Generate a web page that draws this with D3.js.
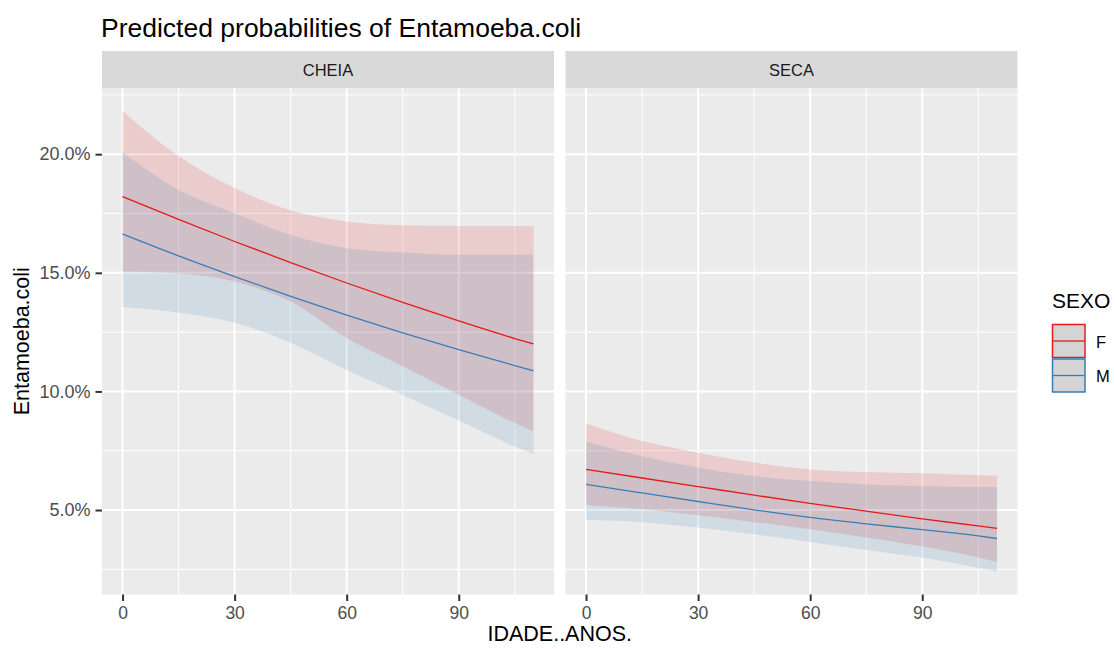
<!DOCTYPE html>
<html>
<head>
<meta charset="utf-8">
<script src="https://cdn.jsdelivr.net/npm/d3@7"></script>
<style>
  body { margin: 0; background: white; }
  text { font-family: "Liberation Sans", Arial, sans-serif; }
</style>
</head>
<body>
<div id="chart"></div>
<script>
const ages = [0, 15, 30, 45, 60, 75, 90, 105, 110];
const panels = ["CHEIA", "SECA"];
const groups = ["F", "M"];
const xTicks = [0, 30, 60, 90];
const xMinor = [15, 45, 75, 105];
const yTicks = [0.05, 0.10, 0.15, 0.20];
const yMinor = [0.025, 0.075, 0.125, 0.175, 0.225];

// CHEIA
const cheiaF = [0.1821, 0.1725, 0.1632, 0.1543, 0.1457, 0.1375, 0.1297, 0.1223, 0.1200];
const cheiaFLow = [0.1506, 0.1497, 0.1463, 0.1379, 0.1225, 0.1106, 0.0986, 0.0867, 0.0832];
const cheiaFHigh = [0.2182, 0.1992, 0.1857, 0.1764, 0.1716, 0.1700, 0.1697, 0.1697, 0.1697];
const cheiaM = [0.1663, 0.1571, 0.1484, 0.1401, 0.1322, 0.1247, 0.1176, 0.1109, 0.1087];
const cheiaMLow = [0.1356, 0.1333, 0.1290, 0.1205, 0.1090, 0.0985, 0.0877, 0.0768, 0.0736];
const cheiaMHigh = [0.2008, 0.1850, 0.1751, 0.1660, 0.1604, 0.1586, 0.1576, 0.1576, 0.1576];
// SECA
const secaF = [0.0671, 0.0635, 0.0599, 0.0563, 0.0528, 0.0495, 0.0463, 0.0433, 0.0423];
const secaFLow = [0.0520, 0.0503, 0.0478, 0.0449, 0.0419, 0.0384, 0.0346, 0.0300, 0.0281];
const secaFHigh = [0.0865, 0.0791, 0.0742, 0.0700, 0.0671, 0.0660, 0.0655, 0.0647, 0.0646];
const secaM = [0.0608, 0.0572, 0.0536, 0.0501, 0.0469, 0.0442, 0.0417, 0.0391, 0.0380];
const secaMLow = [0.0458, 0.0449, 0.0426, 0.0398, 0.0365, 0.0332, 0.0300, 0.0257, 0.0241];
const secaMHigh = [0.0788, 0.0727, 0.0679, 0.0643, 0.0622, 0.0608, 0.0601, 0.0597, 0.0597];

const colors = { F: "#E41A1C", M: "#377EB8" };

const series = [
  { panel: "CHEIA", group: "F", fit: cheiaF, low: cheiaFLow, high: cheiaFHigh },
  { panel: "CHEIA", group: "M", fit: cheiaM, low: cheiaMLow, high: cheiaMHigh },
  { panel: "SECA", group: "F", fit: secaF, low: secaFLow, high: secaFHigh },
  { panel: "SECA", group: "M", fit: secaM, low: secaMLow, high: secaMHigh }
];

const width = 1115, height = 649;
const panelBox = { CHEIA: [102, 554], SECA: [565.5, 1017.5] };
const plotTop = 88, plotBottom = 594.5;
const stripTop = 51;

const svg = d3.select("#chart").append("svg")
  .attr("width", width)
  .attr("height", height);

// ggplot-style 5% expansion
const xExt = d3.extent(ages);
const xPad = (xExt[1] - xExt[0]) * 0.05;
const allY = series.flatMap(s => s.low.concat(s.high));
const yExt = d3.extent(allY);
const yPad = (yExt[1] - yExt[0]) * 0.05;

const y = d3.scaleLinear()
  .domain([yExt[0] - yPad, yExt[1] + yPad])
  .range([plotBottom, plotTop]);

// title
svg.append("text")
  .attr("x", 101)
  .attr("y", 37)
  .attr("font-size", "26.5px")
  .attr("fill", "black")
  .text("Predicted probabilities of Entamoeba.coli");

panels.forEach(p => {
  const [x0, x1] = panelBox[p];
  const x = d3.scaleLinear()
    .domain([xExt[0] - xPad, xExt[1] + xPad])
    .range([x0, x1]);

  const g = svg.append("g");

  // strip
  g.append("rect")
    .attr("x", x0).attr("y", stripTop)
    .attr("width", x1 - x0).attr("height", plotTop - stripTop)
    .attr("fill", "#D9D9D9");
  g.append("text")
    .attr("x", (x0 + x1) / 2)
    .attr("y", (stripTop + plotTop) / 2 + 6)
    .attr("text-anchor", "middle")
    .attr("font-size", "16.5px")
    .attr("fill", "#1A1A1A")
    .text(p);

  // panel background and grid
  g.append("rect")
    .attr("x", x0).attr("y", plotTop)
    .attr("width", x1 - x0).attr("height", plotBottom - plotTop)
    .attr("fill", "#EBEBEB");

  g.selectAll("line.ymin").data(yMinor.filter(v => y(v) > plotTop && y(v) < plotBottom)).enter()
    .append("line")
    .attr("x1", x0).attr("x2", x1)
    .attr("y1", d => y(d)).attr("y2", d => y(d))
    .attr("stroke", "white").attr("stroke-width", 1);
  g.selectAll("line.xmin").data(xMinor).enter()
    .append("line")
    .attr("x1", d => x(d)).attr("x2", d => x(d))
    .attr("y1", plotTop).attr("y2", plotBottom)
    .attr("stroke", "white").attr("stroke-width", 1);
  g.selectAll("line.ymaj").data(yTicks).enter()
    .append("line")
    .attr("x1", x0).attr("x2", x1)
    .attr("y1", d => y(d)).attr("y2", d => y(d))
    .attr("stroke", "white").attr("stroke-width", 2);
  g.selectAll("line.xmaj").data(xTicks).enter()
    .append("line")
    .attr("x1", d => x(d)).attr("x2", d => x(d))
    .attr("y1", plotTop).attr("y2", plotBottom)
    .attr("stroke", "white").attr("stroke-width", 2);

  // ribbons then lines
  const ps = series.filter(s => s.panel === p);
  const area = d3.area()
    .x(d => x(d.age))
    .y0(d => y(d.low))
    .y1(d => y(d.high))
    .curve(d3.curveMonotoneX);
  const line = d3.line()
    .x(d => x(d.age))
    .y(d => y(d.fit))
    .curve(d3.curveMonotoneX);

  ps.forEach(s => {
    const rows = ages.map((a, i) => ({ age: a, fit: s.fit[i], low: s.low[i], high: s.high[i] }));
    g.append("path")
      .datum(rows)
      .attr("d", area)
      .attr("fill", colors[s.group])
      .attr("fill-opacity", 0.15);
  });
  ps.forEach(s => {
    const rows = ages.map((a, i) => ({ age: a, fit: s.fit[i] }));
    g.append("path")
      .datum(rows)
      .attr("d", line)
      .attr("fill", "none")
      .attr("stroke", colors[s.group])
      .attr("stroke-width", 1.3);
  });

  // x axis
  const xAxis = svg.append("g")
    .attr("transform", `translate(0,${plotBottom})`)
    .call(d3.axisBottom(x).tickValues(xTicks).tickSize(6.5).tickPadding(6).tickFormat(d3.format("d")));
  xAxis.select(".domain").remove();
  xAxis.selectAll(".tick line").attr("stroke", "#333333").attr("stroke-width", 2);
  xAxis.selectAll(".tick text")
    .attr("font-size", "17.5px")
    .attr("fill", "#4D4D4D")
    .attr("font-family", "Liberation Sans, Arial, sans-serif");

  if (p === "CHEIA") {
    const yAxis = svg.append("g")
      .attr("transform", `translate(${x0},0)`)
      .call(d3.axisLeft(y).tickValues(yTicks).tickSize(6.5).tickPadding(5).tickFormat(d3.format(".1%")));
    yAxis.select(".domain").remove();
    yAxis.selectAll(".tick line").attr("stroke", "#333333").attr("stroke-width", 2);
    yAxis.selectAll(".tick text")
      .attr("font-size", "18px")
      .attr("fill", "#4D4D4D")
      .attr("font-family", "Liberation Sans, Arial, sans-serif");
  }
});

// axis titles
svg.append("text")
  .attr("x", (panelBox.CHEIA[0] + panelBox.SECA[1]) / 2)
  .attr("y", 641)
  .attr("text-anchor", "middle")
  .attr("font-size", "21.5px")
  .attr("fill", "black")
  .text("IDADE..ANOS.");

svg.append("text")
  .attr("transform", `translate(29,${(plotTop + plotBottom) / 2}) rotate(-90)`)
  .attr("text-anchor", "middle")
  .attr("font-size", "21.5px")
  .attr("fill", "black")
  .text("Entamoeba.coli");

// legend
const legend = svg.append("g").attr("transform", "translate(1052,0)");
legend.append("text")
  .attr("x", 0).attr("y", 308)
  .attr("font-size", "21px")
  .attr("fill", "black")
  .text("SEXO");

groups.forEach((gname, i) => {
  const ky = 324.5 + i * 34.5;
  legend.append("rect")
    .attr("x", 0.5).attr("y", ky)
    .attr("width", 32.5).attr("height", 33)
    .attr("fill", "#D4D4D4")
    .attr("stroke", colors[gname])
    .attr("stroke-width", 1.5);
  legend.append("line")
    .attr("x1", 1).attr("x2", 32.5)
    .attr("y1", ky + 16.5).attr("y2", ky + 16.5)
    .attr("stroke", colors[gname])
    .attr("stroke-width", 1.3);
  legend.append("text")
    .attr("x", 44).attr("y", ky + 23)
    .attr("font-size", "16.5px")
    .attr("fill", "black")
    .text(gname);
});
</script>
</body>
</html>
